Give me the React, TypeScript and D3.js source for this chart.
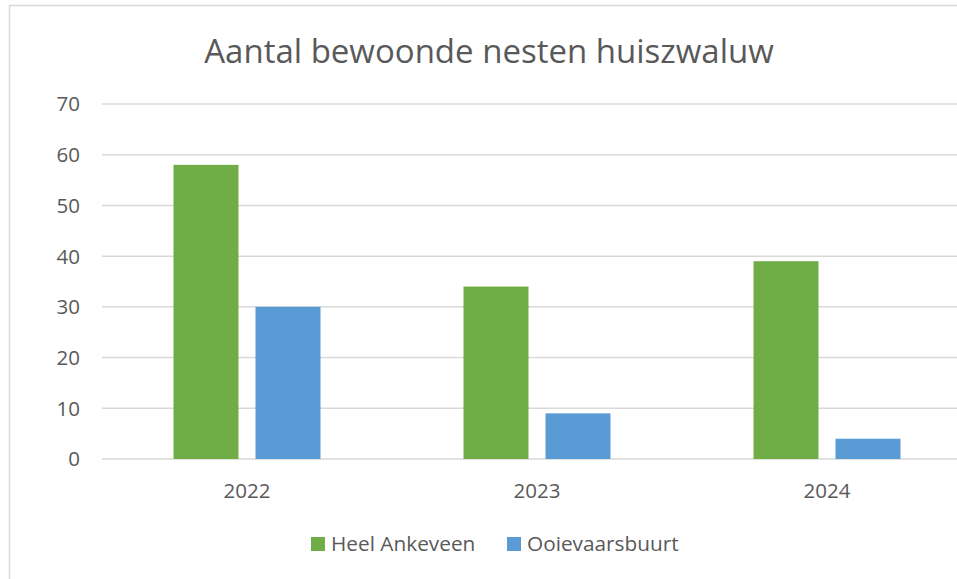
import React from "react";
import * as d3 from "d3";

const categories = ["2022", "2023", "2024"];
const seriesNames = ["Heel Ankeveen", "Ooievaarsbuurt"];
const heelAnkeveen = [58, 34, 39];
const ooievaarsbuurt = [30, 9, 4];
const yTicks = [0, 10, 20, 30, 40, 50, 60, 70];
const colors = ["#70AD47", "#5B9BD5"];

const FONT = "'Open Sans', 'Liberation Sans', sans-serif";

export default function App() {
  const W = 957, H = 579;
  const x = d3.scaleBand<string>().domain(categories).range([102, 972]);
  const y = d3.scaleLinear().domain([0, 70]).range([459, 104]);
  const series = [heelAnkeveen, ooievaarsbuurt];
  const barW = 65, gap = 17;
  return (
    <svg width={W} height={H} style={{ position: "absolute", left: 0, top: 0 }}>
      <rect x={0} y={0} width={W} height={H} fill="#fff" />
      <rect x={9.5} y={5.5} width={1000} height={1000} fill="#fff" stroke="#D9D9D9" strokeWidth={1.5} />
      <text x={489} y={63} textAnchor="middle" fontFamily={FONT} fontSize={33} fill="#595959">
        Aantal bewoonde nesten huiszwaluw
      </text>
      {yTicks.map((t) => (
        <g key={t}>
          <line x1={102} x2={972} y1={y(t)} y2={y(t)} stroke="#D9D9D9" strokeWidth={1.5} />
          <text x={80} y={y(t)} dy="0.36em" textAnchor="end" fontFamily={FONT} fontSize={20.5} fill="#595959">
            {t}
          </text>
        </g>
      ))}
      {categories.map((c, i) => {
        const cx = (x(c) as number) + x.bandwidth() / 2;
        return (
          <g key={c}>
            {series.map((s, j) => {
              const bx = cx - gap / 2 - barW + j * (barW + gap);
              return (
                <rect key={j} x={bx} y={y(s[i])} width={barW} height={y(0) - y(s[i])} fill={colors[j]} />
              );
            })}
            <text x={cx} y={497.5} textAnchor="middle" fontFamily={FONT} fontSize={20.5} fill="#595959">
              {c}
            </text>
          </g>
        );
      })}
      {seriesNames.map((n, j) => {
        const lx = [311, 507][j];
        return (
          <g key={n}>
            <rect x={lx} y={537} width={14} height={14} fill={colors[j]} />
            <text x={lx + 20} y={550.5} fontFamily={FONT} fontSize={20.8} fill="#595959">
              {n}
            </text>
          </g>
        );
      })}
    </svg>
  );
}
